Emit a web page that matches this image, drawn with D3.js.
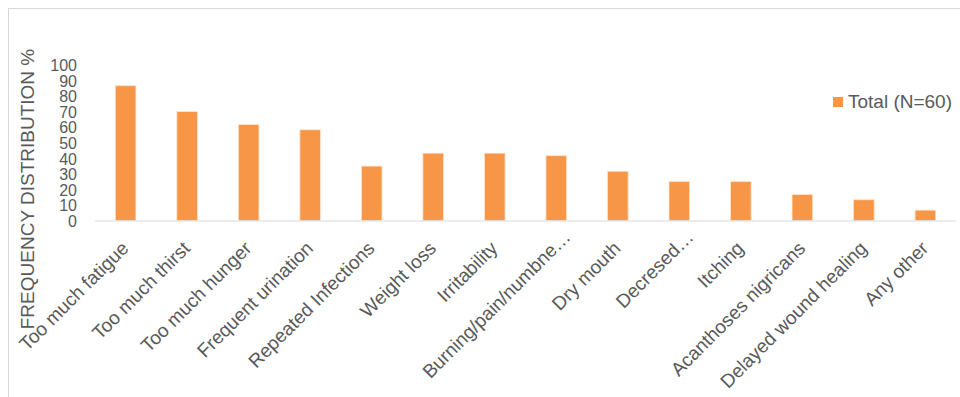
<!DOCTYPE html>
<html>
<head>
<meta charset="utf-8">
<script src="https://cdn.jsdelivr.net/npm/d3@7"></script>
<style>
  body { margin: 0; background: #fff; }
  svg { display: block; font-family: "Liberation Sans", Arial, sans-serif; }
</style>
</head>
<body>
<div class="js-chart"></div>
<script>
// symptoms, share of respondents (N=60)
const categories = [
  "Too much fatigue", "Too much thirst", "Too much hunger", "Frequent urination",
  "Repeated Infections", "Weight loss", "Irritability", "Burning/pain/numbne…",
  "Dry mouth", "Decresed…", "Itching", "Acanthoses nigricans",
  "Delayed wound healing", "Any other"
];
const values = [86.67, 70, 61.67, 58.33, 35, 43.33, 43.33, 41.67, 31.67, 25, 25, 16.67, 13.33, 6.67];
const yTicks = [0, 10, 20, 30, 40, 50, 60, 70, 80, 90, 100];
const seriesName = "Total (N=60)";

const width = 960
    , height = 397
    , plot = {left: 95, right: 956, top: 65, bottom: 220.5}
    , barColor = "#f79646"
    , textColor = "#595959"
    ;

const svg = d3.select(".js-chart")
  .append("svg")
  .attr("width", width)
  .attr("height", height);

// chart frame
svg.append("rect")
  .attr("x", 8.5)
  .attr("y", 8.5)
  .attr("width", width + 10)
  .attr("height", height + 10)
  .attr("fill", "#fff")
  .attr("stroke", "#d9d9d9");

const x = d3.scaleBand()
  .domain(categories)
  .range([plot.left, plot.right])
  .paddingInner(0.665)
  .paddingOuter(0.33);

const y = d3.scaleLinear()
  .domain([0, 100])
  .range([plot.bottom, plot.top]);

// bars
svg.append("g")
  .selectAll("rect")
  .data(values)
  .join("rect")
    .attr("x", (d, i) => x(categories[i]))
    .attr("y", d => y(d))
    .attr("width", x.bandwidth())
    .attr("height", d => y(0) - y(d))
    .attr("fill", barColor)
    .attr("stroke", "#fde3cf")
    .attr("stroke-width", 0.8);

// baseline
svg.append("line")
  .attr("x1", plot.left)
  .attr("x2", plot.right)
  .attr("y1", y(0) + 0.5)
  .attr("y2", y(0) + 0.5)
  .attr("stroke", "#d9d9d9")
  .attr("stroke-width", 1);

// y tick labels
const yAxis = d3.axisLeft(y)
  .tickValues(yTicks)
  .tickSize(0)
  .tickPadding(0);

svg.append("g")
  .attr("transform", `translate(${plot.left - 18},0)`)
  .call(yAxis)
  .call(g => g.select(".domain").remove())
  .call(g => g.selectAll("text")
    .attr("fill", textColor)
    .style("font-size", "16px")
    .attr("dy", "0.36em"));

// x category labels, rotated; truncated ones sit a bit further out
const xAxis = d3.axisBottom(x)
  .tickSize(0)
  .tickPadding(0);

svg.append("g")
  .attr("transform", `translate(0,${plot.bottom})`)
  .call(xAxis)
  .call(g => g.select(".domain").remove())
  .call(g => g.selectAll("text")
    .attr("fill", textColor)
    .style("font-size", "19px")
    .attr("text-anchor", "end")
    .attr("y", 0)
    .attr("dy", 0)
    .attr("dx", d => d.endsWith("…") ? 16 : 0)
    .attr("transform", "translate(4,29) rotate(-45)"));

// y axis title
svg.append("text")
  .attr("transform", `translate(34,189) rotate(-90)`)
  .attr("text-anchor", "middle")
  .attr("fill", textColor)
  .style("font-size", "19px")
  .text("FREQUENCY DISTRIBUTION %");

// legend
const legend = svg.append("g")
  .attr("transform", "translate(833,97)");

legend.append("rect")
  .attr("width", 10)
  .attr("height", 10)
  .attr("fill", barColor);

legend.append("text")
  .attr("x", 15)
  .attr("y", 11)
  .attr("fill", textColor)
  .style("font-size", "19px")
  .text(seriesName);
</script>
</body>
</html>
